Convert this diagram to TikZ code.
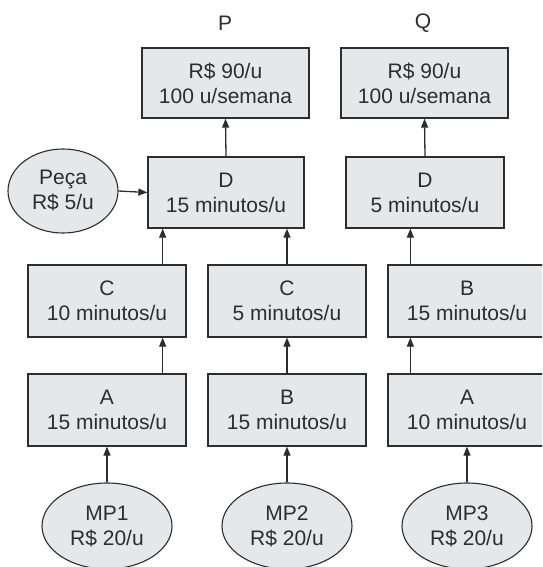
\documentclass[tikz,border=0pt]{standalone}
\usepackage{fontspec}
\setmainfont{Liberation Sans}
\usetikzlibrary{arrows.meta,calc,shapes.geometric}
\definecolor{boxfill}{RGB}{230,231,232}
\definecolor{linec}{RGB}{45,45,45}
\begin{document}
\begin{tikzpicture}[x=1pt,y=-1pt,
  every node/.style={font=\fontsize{21}{25}\selectfont, text=linec},
  procbox/.style={draw=linec, fill=boxfill, line width=1.3pt, rectangle, align=center, inner sep=0pt, minimum width=158pt, minimum height=72pt},
  rawell/.style={draw=linec, fill=boxfill, line width=1.1pt, ellipse, align=center, inner sep=0pt, minimum width=130pt, minimum height=86pt},
  arr/.style={draw=linec, line width=1.3pt, -{Triangle[length=9pt,width=7pt]}}
]
\clip (0,0) rectangle (542,567);
\fill[white] (0,0) rectangle (542,567);

\node (lP) at (225,23) {P};
\node (lQ) at (423,23) {Q};

\node[procbox, minimum width=167pt, minimum height=70pt] (topP) at (225.5,83) {R\$ 90/u\\100 u/semana};
\node[procbox, minimum width=167pt, minimum height=70pt] (topQ) at (424.5,83) {R\$ 90/u\\100 u/semana};

\node[procbox, minimum width=156pt, minimum height=71pt] (DP) at (226,192.5) {D\\15 minutos/u};
\node[procbox, minimum width=158pt, minimum height=71pt] (DQ) at (425,192.5) {D\\5 minutos/u};

\node[rawell, minimum width=110pt, minimum height=84pt] (Peca) at (63,191) {Peça\\R\$ 5/u};

\node[procbox] (C1) at (107,301) {C\\10 minutos/u};
\node[procbox] (C2) at (287,301) {C\\5 minutos/u};
\node[procbox] (B3) at (467,301) {B\\15 minutos/u};

\node[procbox] (A1) at (107,410) {A\\15 minutos/u};
\node[procbox] (B2) at (287,410) {B\\15 minutos/u};
\node[procbox] (A3) at (467,410) {A\\10 minutos/u};

\node[rawell] (MP1) at (107,526) {MP1\\R\$ 20/u};
\node[rawell] (MP2) at (287,526) {MP2\\R\$ 20/u};
\node[rawell] (MP3) at (467,526) {MP3\\R\$ 20/u};

% connectors
\draw[arr] (DP.north) -- (topP.south);
\draw[arr] (DQ.north) -- (topQ.south);
\draw[arr] (Peca.east) -- (DP.west);

\draw[arr] ([xshift=-24pt]C1.north east) -- ([xshift=-24pt]C1.north east |- DP.south);
\draw[arr] (C2.north) -- (C2.north |- DP.south);
\draw[arr] ([xshift=23pt]B3.north west) -- ([xshift=23pt]B3.north west |- DQ.south);

\draw[arr] ([xshift=-24pt]A1.north east) -- ([xshift=-24pt]C1.south east);
\draw[arr] (B2.north) -- (C2.south);
\draw[arr] ([xshift=23pt]A3.north west) -- ([xshift=23pt]B3.south west);

\draw[arr] (MP1.north) -- (A1.south);
\draw[arr] (MP2.north) -- (B2.south);
\draw[arr] (MP3.north) -- (A3.south);
\end{tikzpicture}
\end{document}
